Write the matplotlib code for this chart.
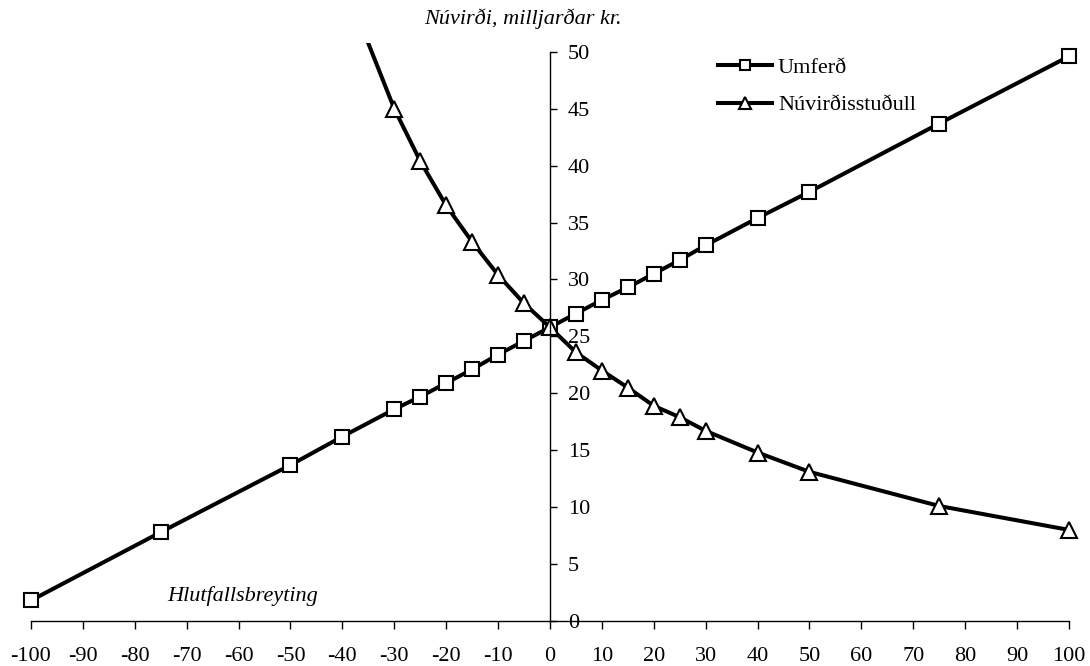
import matplotlib
matplotlib.use("Agg")
import matplotlib.pyplot as plt

plt.rcParams["font.family"] = ["Liberation Serif", "DejaVu Serif"]
plt.rcParams["axes.unicode_minus"] = False

# percentage change on the x axis
x_umferd = [-100, -75, -50, -40, -30, -25, -20, -15, -10, -5, 0,
            5, 10, 15, 20, 25, 30, 40, 50, 75, 100]
umferd = [1.8, 7.8, 13.7, 16.2, 18.6, 19.7, 20.9, 22.1, 23.4, 24.6, 25.8,
          27.0, 28.2, 29.3, 30.5, 31.7, 33.0, 35.4, 37.7, 43.7, 49.6]

x_nuvirdi = [-40, -30, -25, -20, -15, -10, -5, 0,
             5, 10, 15, 20, 25, 30, 40, 50, 75, 100]
nuvirdisstudull = [56.5, 45.0, 40.4, 36.5, 33.3, 30.4, 27.9, 25.8,
                   23.6, 22.0, 20.5, 18.9, 17.9, 16.7, 14.8, 13.1, 10.1, 8.0]

x_ticks = list(range(-100, 101, 10))
y_ticks = list(range(0, 51, 5))

fig = plt.figure(figsize=(10.9, 6.66), dpi=100)
ax = fig.add_axes([0.0141, 0.0676, 0.9809, 0.8683])

line_kw = dict(color="black", lw=2.9, markersize=10.5, markeredgewidth=1.5,
               markerfacecolor="white", markeredgecolor="black")
ax.plot(x_umferd, umferd, marker="s", label="Umferð", **line_kw)
ax.plot(x_nuvirdi, nuvirdisstudull, marker="^", label="Núvirðisstuðull",
        **dict(line_kw, markersize=11.5))

ax.set_xlim(-103, 103)
ax.set_ylim(0, 50.8)

# axes: x along bottom, y through x = 0 with labels on its right side
ax.spines["top"].set_visible(False)
ax.spines["left"].set_visible(False)
ax.spines["right"].set_position(("data", 0))
ax.spines["right"].set_bounds(0, 50)
ax.spines["bottom"].set_bounds(-100, 100)
for s in ("right", "bottom"):
    ax.spines[s].set_linewidth(1.0)

ax.yaxis.tick_right()
ax.set_yticks(y_ticks)
ax.set_xticks(x_ticks)
ax.tick_params(axis="y", direction="out", length=5, width=1, pad=8, labelsize=16)
ax.tick_params(axis="x", direction="out", length=6, width=1, pad=13, labelsize=16)

fig.text(424 / 1090, 1 - 19 / 666, "Núvirði, milljarðar kr.", fontsize=16,
         style="italic", ha="left", va="center")
fig.text(167 / 1090, 1 - 601 / 666, "Hlutfallsbreyting", fontsize=16,
         style="italic", ha="left", va="baseline")

ax.legend(loc="upper left", bbox_to_anchor=(718 / 1090, 1 - 57 / 666),
          bbox_transform=fig.transFigure, frameon=False, fontsize=16,
          handlelength=2.45, handletextpad=0.25, labelspacing=0.78,
          markerscale=0.7, borderpad=0, borderaxespad=0)

fig.savefig("out.png", dpi=100)
